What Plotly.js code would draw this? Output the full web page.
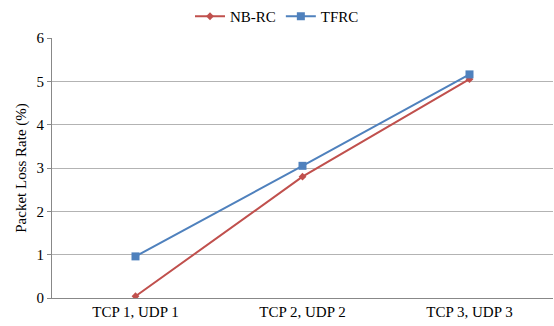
<!DOCTYPE html>
<html>
<head>
<meta charset="utf-8">
<script src="https://cdn.plot.ly/plotly-3.0.1.min.js"></script>
<style>html,body{margin:0;padding:0;background:#fff;}#chart{width:554px;height:326px;}</style>
</head>
<body>
<div id="chart"></div>
<script>
const categories = ["TCP 1, UDP 1", "TCP 2, UDP 2", "TCP 3, UDP 3"];
const nbrc = [0.04, 2.8, 5.05];
const tfrc = [0.96, 3.05, 5.16];
const yTicks = [0, 1, 2, 3, 4, 5, 6];

const traces = [
  {x: categories, y: nbrc, name: "NB-RC", type: "scatter", mode: "lines+markers",
   line: {color: "#C0504D", width: 2}, marker: {symbol: "diamond", size: 6, color: "#C0504D"}},
  {x: categories, y: tfrc, name: "TFRC", type: "scatter", mode: "lines+markers",
   line: {color: "#4F81BD", width: 2}, marker: {symbol: "square", size: 8, color: "#4F81BD"}}
];

const layout = {
  width: 554, height: 326,
  margin: {l: 52, r: 1, t: 38, b: 28},
  paper_bgcolor: "#fff", plot_bgcolor: "#fff",
  font: {family: "Liberation Serif", size: 15, color: "#000"},
  showlegend: true,
  legend: {orientation: "h", xref: "container", x: 0.5, xanchor: "center", y: 1, yref: "container", yanchor: "top",
           font: {family: "Liberation Serif", size: 15}, itemwidth: 30},
  xaxis: {type: "category", range: [-0.5, 2.5], showgrid: false, showline: true, linecolor: "#888", linewidth: 1,
          ticks: "", tickfont: {family: "Liberation Serif", size: 15}, zeroline: false, fixedrange: true},
  yaxis: {range: [0, 6], tickvals: yTicks, showgrid: true, gridcolor: "#b3b3b3", gridwidth: 1,
          showline: true, linecolor: "#888", linewidth: 1, ticks: "outside", ticklen: 4, tickcolor: "#888",
          zeroline: false, tickfont: {family: "Liberation Serif", size: 15},
          title: {text: "Packet Loss Rate (%)", font: {family: "Liberation Serif", size: 15}, standoff: 6}}
};

Plotly.newPlot("chart", traces, layout, {displayModeBar: false, staticPlot: true});
</script>
</body>
</html>
